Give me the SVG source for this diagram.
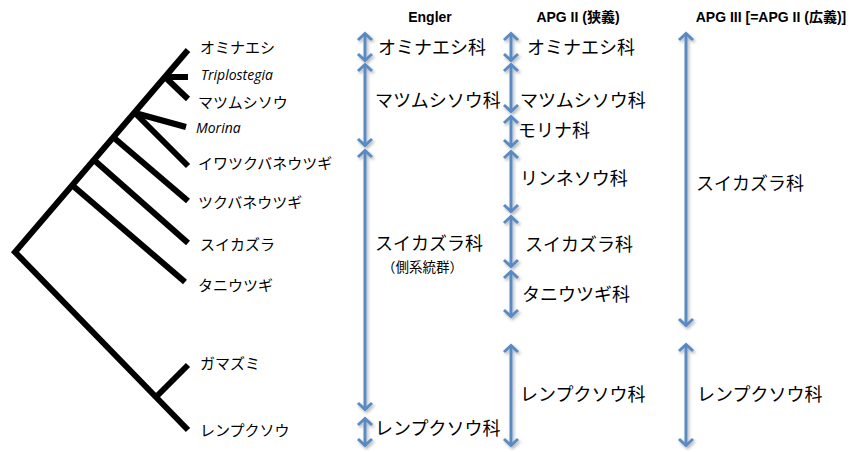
<svg xmlns="http://www.w3.org/2000/svg" width="857" height="452" viewBox="0 0 857 452">
<style>
.tree{fill:none;stroke:#000;stroke-width:6;stroke-linejoin:miter;stroke-linecap:butt}
.tx{font-family:"Noto Sans CJK JP","Noto Sans",sans-serif;fill:#000}
.leaf{font-size:15px}
.it{font-family:"Open Sans","Liberation Sans",sans-serif;font-style:italic;font-size:14px}
.fam{font-size:18px}
.sub{font-size:13.5px}
.hd{font-family:"Liberation Sans","Noto Sans CJK JP",sans-serif;font-weight:bold;font-size:14px;text-anchor:middle}
.arr{fill:none;stroke:#5A8AC2;stroke-width:3;marker-start:url(#ah);marker-end:url(#ah)}
</style>
<defs>
<marker id="ah" markerUnits="userSpaceOnUse" viewBox="-10 -9 12 18" refX="0" refY="0" markerWidth="12" markerHeight="18" orient="auto-start-reverse">
<path d="M-7,-7 L-0.5,0 L-7,7" fill="none" stroke="#5A8AC2" stroke-width="3"/>
</marker>
<filter id="sh" x="-50%" y="-5%" width="200%" height="110%">
<feDropShadow dx="1.5" dy="2" stdDeviation="1.5" flood-color="#000" flood-opacity="0.3"/>
</filter>
</defs>
<rect width="857" height="452" fill="#fff"/>

<g id="tree">
<path class="tree" d="M188,50 L15,252 L188,430"/>
<path class="tree" d="M165,77 H188"/>
<path class="tree" d="M165,77 L188,99"/>
<path class="tree" d="M135,113 L186,127"/>
<path class="tree" d="M135,113 L188,166"/>
<path class="tree" d="M113,137 L188,201"/>
<path class="tree" d="M94,160 L188,243"/>
<path class="tree" d="M72,185 L185,282"/>
<path class="tree" d="M156,397 L188,365"/>
</g>

<g id="leaves">
<g id="leaf-ominaeshi"><text class="tx leaf" x="200" y="53">オミナエシ</text></g>
<g id="leaf-triplostegia"><text class="it" x="201" y="80">Triplostegia</text></g>
<g id="leaf-matsumushisou"><text class="tx leaf" x="198" y="108">マツムシソウ</text></g>
<g id="leaf-morina"><text class="it" x="196" y="133">Morina</text></g>
<g id="leaf-iwatsukubaneutsugi"><text class="tx leaf" x="198" y="169">イワツクバネウツギ</text></g>
<g id="leaf-tsukubaneutsugi"><text class="tx leaf" x="198" y="208">ツクバネウツギ</text></g>
<g id="leaf-suikazura"><text class="tx leaf" x="200" y="250">スイカズラ</text></g>
<g id="leaf-taniutsugi"><text class="tx leaf" x="198" y="291">タニウツギ</text></g>
<g id="leaf-gamazumi"><text class="tx leaf" x="200" y="369">ガマズミ</text></g>
<g id="leaf-renpukusou"><text class="tx leaf" x="200" y="436">レンプクソウ</text></g>
</g>

<g id="headers">
<text class="hd" x="430" y="22">Engler</text>
<text class="hd" x="578" y="22">APG II (狭義)</text>
<text class="hd" x="771" y="22">APG III [=APG II (広義)]</text>
</g>

<g id="connectors" filter="url(#sh)">
<path class="arr" d="M365,33 V61"/>
<path class="arr" d="M365,64 V146"/>
<path class="arr" d="M365,150 V410"/>
<path class="arr" d="M365,418 V446"/>
<path class="arr" d="M511,33 V61"/>
<path class="arr" d="M511,64 V112"/>
<path class="arr" d="M511,116 V147"/>
<path class="arr" d="M511,151 V212"/>
<path class="arr" d="M511,216 V267"/>
<path class="arr" d="M511,271 V317"/>
<path class="arr" d="M511,345 V446"/>
<path class="arr" d="M686,33 V326"/>
<path class="arr" d="M686,344 V446"/>
</g>

<g id="engler-labels">
<g id="e-ominaeshi"><text class="tx fam" x="378" y="54">オミナエシ科</text></g>
<g id="e-matsumushisou"><text class="tx fam" x="375" y="107">マツムシソウ科</text></g>
<g id="e-suikazura"><text class="tx fam" x="375" y="250">スイカズラ科</text><text class="tx sub" x="382" y="272">（側系統群）</text></g>
<g id="e-renpukusou"><text class="tx fam" x="375" y="435">レンプクソウ科</text></g>
</g>

<g id="apg2-labels">
<g id="a2-ominaeshi"><text class="tx fam" x="527" y="54">オミナエシ科</text></g>
<g id="a2-matsumushisou"><text class="tx fam" x="520" y="107">マツムシソウ科</text></g>
<g id="a2-morina"><text class="tx fam" x="518" y="137">モリナ科</text></g>
<g id="a2-linnaea"><text class="tx fam" x="520" y="185">リンネソウ科</text></g>
<g id="a2-suikazura"><text class="tx fam" x="525" y="251">スイカズラ科</text></g>
<g id="a2-taniutsugi"><text class="tx fam" x="522" y="301">タニウツギ科</text></g>
<g id="a2-renpukusou"><text class="tx fam" x="520" y="401">レンプクソウ科</text></g>
</g>

<g id="apg3-labels">
<g id="a3-suikazura"><text class="tx fam" x="696" y="190">スイカズラ科</text></g>
<g id="a3-renpukusou"><text class="tx fam" x="697" y="401">レンプクソウ科</text></g>
</g>
</svg>
